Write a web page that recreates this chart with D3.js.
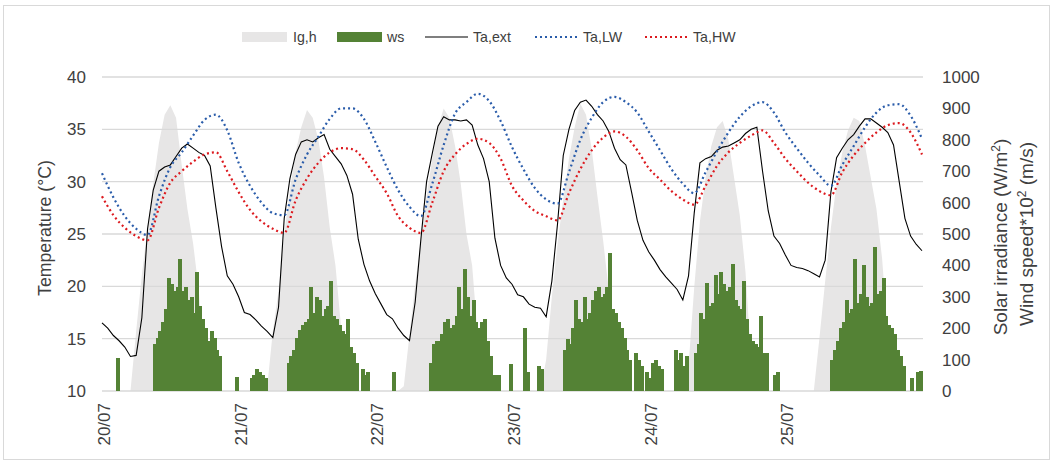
<!doctype html>
<html>
<head>
  <meta charset="utf8">
  <title>Ta,ext / Ta,LW / Ta,HW</title>
  <style>
    body {
      margin: 0;
      padding: 0;
      background: #fff;
    }
    svg {
      display: block;
      font-family: "Liberation Sans", Arial, sans-serif;
    }
  </style>
</head>
<body>
  <svg id="chart"></svg>

  <script src="https://d3js.org/d3.v7.min.js"></script>
  <script>
    // day labels on the x axis (one per 24 h)
    const dayLabels = ['20/07', '21/07', '22/07', '23/07', '24/07', '25/07']
    const tempTicks = [10, 15, 20, 25, 30, 35, 40]
    const rightTicks = [0, 100, 200, 300, 400, 500, 600, 700, 800, 900, 1000]

    // outdoor air temperature, hourly (°C)
    const taExt = [
      16.5, 16.0, 15.3, 14.8, 14.2, 13.3, 13.4, 17.0, 25.5, 29.2, 31.0, 31.4, 31.6, 32.4, 33.2, 33.6, 33.2, 32.8, 32.5, 31.5, 27.5, 23.8, 21.0, 20.2,
      19.0, 17.5, 17.3, 16.8, 16.2, 15.7, 15.1, 18.0, 26.5, 30.3, 32.6, 33.8, 34.0, 33.8, 34.2, 34.5, 33.1, 32.4, 31.7, 30.6, 28.8, 24.5, 22.1, 20.5,
      19.3, 18.3, 17.3, 16.9, 16.0, 15.3, 14.8, 18.5, 24.5, 30.0, 32.7, 35.3, 36.2, 35.9, 35.9, 35.8, 35.9, 35.4, 33.5, 32.2, 30.0, 24.6, 22.0, 20.8,
      20.2, 19.2, 19.0, 18.3, 18.0, 17.9, 17.1, 20.5, 26.0, 32.5, 35.0, 36.8, 37.6, 37.8, 37.2, 36.4, 35.8, 34.8, 33.2, 32.1, 31.6, 29.0, 26.3, 24.4,
      23.3, 22.5, 21.6, 20.9, 20.3, 19.7, 18.7, 21.0, 27.0, 31.8, 32.2, 32.4, 33.0, 33.3, 33.4, 33.7, 34.0, 34.6, 35.0, 35.2, 31.0, 27.2, 24.8, 24.1,
      23.0, 22.0, 21.8, 21.7, 21.5, 21.2, 20.9, 22.5, 29.0, 32.3, 33.2, 34.0, 34.5, 35.3, 36.0, 36.0, 35.6, 35.2, 34.7, 33.5, 30.0, 26.5, 24.8, 24.0,
      23.4
    ]

    // global horizontal irradiance, hourly (W/m2)
    const igh = [
      0, 0, 0, 0, 0, 0, 190, 370, 520, 660, 790, 880, 910, 870, 720, 580, 470, 320, 80, 0, 0, 0, 0, 0,
      0, 0, 0, 0, 0, 10, 190, 320, 500, 640, 760, 840, 895, 870, 800, 680, 520, 400, 200, 40, 0, 0, 0, 0,
      0, 0, 0, 0, 0, 15, 180, 340, 480, 620, 740, 840, 900, 870, 780, 660, 500, 400, 170, 0, 0, 0, 0, 0,
      0, 0, 0, 0, 0, 0, 100, 300, 470, 610, 740, 840, 915, 880, 770, 620, 480, 320, 60, 0, 0, 0, 0, 0,
      0, 0, 0, 0, 0, 0, 0, 80, 330, 540, 680, 780, 840, 860, 800, 680, 560, 380, 100, 0, 0, 0, 0, 0,
      0, 0, 0, 0, 0, 0, 170, 350, 520, 660, 760, 830, 870, 860, 780, 680, 580, 420, 180, 0, 0, 0, 0, 0,
      0
    ]

    // simulated air temperatures, every 2 h (°C)
    const taLW = [
      30.8, 28.5, 26.7, 25.5, 24.9, 28.6, 31.4, 32.8, 34.4, 35.9, 36.4, 34.9,
      31.8, 29.6, 28.0, 27.0, 26.8, 30.2, 32.6, 34.3, 36.0, 37.0, 37.0, 36.0,
      33.8, 31.4, 29.2, 27.6, 26.7, 29.8, 33.5, 36.5, 37.6, 38.4, 37.7, 35.8,
      33.3, 31.2, 29.4, 28.3, 27.9, 30.9, 34.0, 36.1, 37.6, 38.1, 37.6, 36.6,
      34.8, 33.0, 31.2, 29.8, 28.9, 30.9, 32.9, 34.7, 36.2, 37.2, 37.6, 36.6,
      34.7, 33.2, 31.8, 30.6, 29.6, 31.6, 33.4, 35.2, 36.6, 37.3, 37.4, 36.3,
      34.1
    ]
    const taHW = [
      28.6, 26.8, 25.6, 24.8, 24.4, 27.5, 29.9, 31.0, 31.9, 32.6, 32.8, 31.0,
      29.0, 27.3, 26.2, 25.5, 25.1, 28.2, 30.3, 31.8, 32.8, 33.2, 33.1, 32.1,
      30.5, 28.9, 26.7, 25.6, 25.1, 28.0, 31.0, 32.6, 33.6, 34.1, 33.7, 32.2,
      29.6, 28.2, 27.2, 26.7, 26.3, 28.9, 31.2, 33.0, 34.2, 34.8, 34.3, 33.0,
      31.3, 30.2, 29.1, 28.3, 27.8, 29.6, 31.5, 32.8, 33.7, 34.4, 34.9, 33.7,
      32.2, 31.0, 29.9, 29.1, 28.7, 30.9, 32.5, 33.7, 34.7, 35.4, 35.6, 34.7,
      32.6
    ]

    // wind speed * 100, every 30 min (m/s)
    const windSpeed = [
      0, 0, 0, 0, 0, 105, 0, 0, 0, 0, 0, 0, 0, 0, 0, 0, 0, 0,
      150, 170, 190, 220, 260, 360, 340, 320, 330, 420, 320, 330, 290, 300, 250, 380, 270, 230, 200, 160, 190, 170, 130, 110,
      0, 0, 0, 0, 0, 45,

      0, 0, 0, 0, 40, 50, 70, 60, 50, 40, 0, 0, 0, 0, 0, 0, 0,
      90, 110, 130, 170, 195, 210, 220, 230, 330, 250, 300, 290, 240, 260, 270, 350, 240, 230, 210, 190, 180, 230, 140, 120, 90,
      0, 70, 50, 60, 0, 0,

      0, 0, 0, 0, 0, 0, 60, 0, 0, 0, 0, 0, 0, 0, 0, 0, 0, 0, 0,
      90, 150, 160, 160, 180, 220, 230, 200, 210, 240, 330, 260, 390, 300, 240, 290, 220, 200, 220, 230, 160, 110,
      50, 50, 50, 0, 0, 0, 85,

      0, 0, 0, 0, 200, 60, 0, 0, 0, 80, 70, 0, 0, 0, 0, 0, 0, 0,
      130, 165, 150, 200, 290, 230, 220, 300, 230, 250, 290, 320, 330, 300, 310, 330, 440, 260, 250, 220, 200, 170, 130, 100,
      0, 120, 100, 80, 0, 60,

      40, 90, 100, 80, 70, 0, 0, 0, 0, 130, 100, 120, 80, 110, 0, 0,
      120, 150, 250, 230, 345, 270, 280, 370, 310, 380, 340, 320, 330, 405, 290, 270, 260, 350, 230, 180, 160, 150, 140, 240, 120, 120,
      0, 0, 50, 60, 0, 0,

      0, 0, 0, 0, 0, 0, 0, 0, 0, 0, 0, 0, 0, 0, 0, 0,
      100, 130, 160, 200, 220, 290, 250, 260, 420, 280, 310, 400, 300, 270, 280, 460, 310, 320, 360, 240, 210, 200, 180, 130, 110, 80,
      0, 0, 40, 0, 60, 65
    ]

    const width = 1053
    const height = 462
    const textColor = '#404040'
    const gridColor = '#d9d9d9'

    const svg = d3.select('#chart')
      .attr('width', width)
      .attr('height', height)

    // outer frame
    svg.append('rect')
      .attr('x', 3.5).attr('y', 5.5)
      .attr('width', 1046).attr('height', 454)
      .attr('fill', '#fff')
      .attr('stroke', gridColor)

    const x = d3.scaleLinear().domain([0, 144]).range([102, 922])
    const yT = d3.scaleLinear().domain([10, 40]).range([391, 77])
    const yR = d3.scaleLinear().domain([0, 1000]).range([391, 77])

    // solar irradiance area
    const area = d3.area()
      .x((d, i) => x(i))
      .y0(yR(0))
      .y1(d => yR(d))
    svg.append('path')
      .datum(igh)
      .attr('d', area)
      .attr('fill', '#e7e6e6')

    // horizontal gridlines
    svg.append('g')
      .selectAll('line')
      .data(tempTicks)
      .join('line')
      .attr('x1', x(0))
      .attr('x2', x(144) + 1)
      .attr('y1', d => yT(d))
      .attr('y2', d => yT(d))
      .attr('stroke', gridColor)
      .attr('stroke-width', 1.3)

    // wind speed bars, snapped to pixels and overlapping so blocks read as solid
    const step = x(0.5) - x(0)
    svg.append('g')
      .attr('shape-rendering', 'crispEdges')
      .selectAll('rect')
      .data(windSpeed)
      .join('rect')
      .attr('x', (d, i) => Math.floor(x(i * 0.5)))
      .attr('width', d => d > 0 ? Math.ceil(step) + 1 : 0)
      .attr('y', d => yR(d))
      .attr('height', d => yR(0) - yR(d))
      .attr('fill', '#548235')

    // temperature lines
    const lineHourly = d3.line()
      .x((d, i) => x(i))
      .y(d => yT(d))
    const line2h = d3.line()
      .x((d, i) => x(i * 2))
      .y(d => yT(d))
      .curve(d3.curveMonotoneX)

    svg.append('path')
      .datum(taExt)
      .attr('d', lineHourly)
      .attr('fill', 'none')
      .attr('stroke', '#000')
      .attr('stroke-width', 1.1)

    svg.append('path')
      .datum(taLW)
      .attr('d', line2h)
      .attr('fill', 'none')
      .attr('stroke', '#2a5caa')
      .attr('stroke-width', 2.2)
      .attr('stroke-dasharray', '2,3')

    svg.append('path')
      .datum(taHW)
      .attr('d', line2h)
      .attr('fill', 'none')
      .attr('stroke', '#dc1a1f')
      .attr('stroke-width', 2.2)
      .attr('stroke-dasharray', '2,3')

    // left axis labels
    svg.append('g')
      .selectAll('text')
      .data(tempTicks)
      .join('text')
      .attr('x', 86)
      .attr('y', d => yT(d))
      .attr('dy', '0.35em')
      .attr('text-anchor', 'end')
      .attr('font-size', 17)
      .attr('fill', textColor)
      .text(d => d)

    // right axis labels
    svg.append('g')
      .selectAll('text')
      .data(rightTicks)
      .join('text')
      .attr('x', 942)
      .attr('y', d => yR(d))
      .attr('dy', '0.35em')
      .attr('font-size', 17)
      .attr('fill', textColor)
      .text(d => d)

    // x axis labels, rotated
    svg.append('g')
      .selectAll('text')
      .data(dayLabels)
      .join('text')
      .attr('transform', (d, i) => `translate(${x(i * 24) + 2},403) rotate(-90)`)
      .attr('dy', '0.35em')
      .attr('text-anchor', 'end')
      .attr('font-size', 17)
      .attr('fill', textColor)
      .text(d => d)

    // axis titles
    svg.append('text')
      .attr('transform', 'translate(45,228) rotate(-90)')
      .attr('dy', '0.35em')
      .attr('text-anchor', 'middle')
      .attr('font-size', 17.7)
      .attr('fill', textColor)
      .text('Temperature (°C)')

    const rt1 = svg.append('text')
      .attr('transform', 'translate(1000,237) rotate(-90)')
      .attr('dy', '0.35em')
      .attr('text-anchor', 'middle')
      .attr('font-size', 19)
      .attr('fill', textColor)
    rt1.append('tspan').text('Solar irradiance (W/m')
    rt1.append('tspan').attr('baseline-shift', 'super').attr('font-size', 12).text('2')
    rt1.append('tspan').text(')')

    const rt2 = svg.append('text')
      .attr('transform', 'translate(1026,234) rotate(-90)')
      .attr('dy', '0.35em')
      .attr('text-anchor', 'middle')
      .attr('font-size', 19)
      .attr('fill', textColor)
    rt2.append('tspan').text('Wind speed*10')
    rt2.append('tspan').attr('baseline-shift', 'super').attr('font-size', 12).text('2')
    rt2.append('tspan').text(' (m/s)')

    // legend
    const legend = svg.append('g').attr('font-size', 14.2).attr('fill', textColor)
    legend.append('rect').attr('x', 242).attr('y', 32).attr('width', 45).attr('height', 10).attr('fill', '#e7e6e6')
    legend.append('text').attr('x', 293).attr('y', 37).attr('dy', '0.35em').text('Ig,h')
    legend.append('rect').attr('x', 337).attr('y', 32).attr('width', 45).attr('height', 10).attr('fill', '#548235')
    legend.append('text').attr('x', 387).attr('y', 37).attr('dy', '0.35em').text('ws')
    legend.append('line').attr('x1', 425).attr('x2', 468).attr('y1', 37).attr('y2', 37)
      .attr('stroke', '#000').attr('stroke-width', 1.1)
    legend.append('text').attr('x', 473).attr('y', 37).attr('dy', '0.35em').text('Ta,ext')
    legend.append('line').attr('x1', 535).attr('x2', 578).attr('y1', 37).attr('y2', 37)
      .attr('stroke', '#2a5caa').attr('stroke-width', 2.2).attr('stroke-dasharray', '2,3')
    legend.append('text').attr('x', 583).attr('y', 37).attr('dy', '0.35em').text('Ta,LW')
    legend.append('line').attr('x1', 645).attr('x2', 688).attr('y1', 37).attr('y2', 37)
      .attr('stroke', '#dc1a1f').attr('stroke-width', 2.2).attr('stroke-dasharray', '2,3')
    legend.append('text').attr('x', 693).attr('y', 37).attr('dy', '0.35em').text('Ta,HW')
  </script>
</body>
</html>
